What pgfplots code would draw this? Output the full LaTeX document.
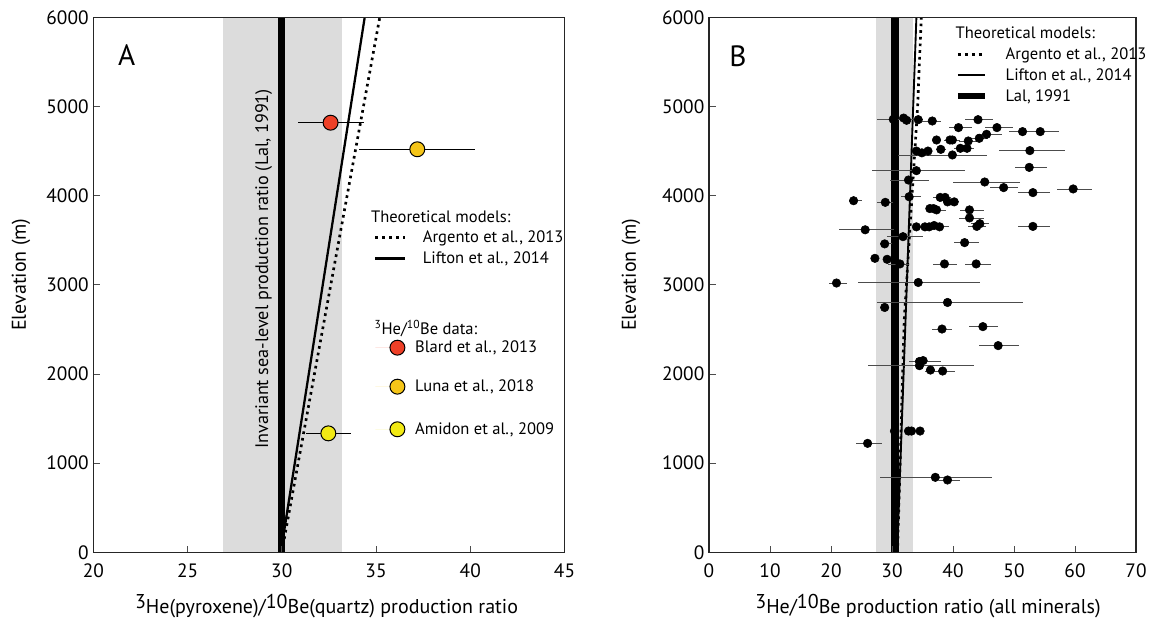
\documentclass[border=0pt]{standalone}
\usepackage{pgfplots}
\pgfplotsset{compat=1.18}
\usepackage{pgfplotstable}
\usepackage{fontspec}
\setmainfont{PT Sans}

\definecolor{band}{HTML}{DCDCDC}
\definecolor{blard}{HTML}{EE4027}
\definecolor{luna}{HTML}{F5C518}
\definecolor{amidon}{HTML}{F2EA14}

% legend strut, symmetric round the visual middle of the text
\newcommand{\ls}[1]{\rule[\dimexpr3.8pt-#1\relax]{0pt}{\dimexpr#1*2\relax}}

% panel B: 3He/10Be ratios, all minerals
\pgfplotstableread{
x y em ep
30.2 4856 2.7 4.8
31.9 4870 0 0
32.4 4845 0 0
34.3 4852 0.5 0.5
36.6 4837 1.7 1.5
44.1 4852 2.2 2.5
40.9 4763 1.6 2.2
47.2 4763 1.9 2.7
51.4 4718 2.3 2.2
54.3 4718 2.0 3.0
45.5 4688 1.6 2.5
37.3 4624 0.8 0.8
39.5 4624 1.0 1.0
39.9 4624 1.2 1.2
42.5 4613 1.5 1.5
44.3 4643 1.5 1.5
34.0 4500 0 0
34.9 4480 0 0
35.9 4500 0 0
38.0 4519 0.8 0.8
39.9 4456 8.9 5.6
41.2 4531 1.0 1.0
42.3 4531 1.2 1.2
52.6 4505 5.0 5.8
34.0 4280 7.3 7.9
52.5 4317 2.3 2.9
32.7 4175 3.0 3.4
45.2 4153 5.2 5.8
48.3 4090 2.2 2.4
53.1 4034 2.4 2.8
59.7 4075 2.7 3.1
32.8 3988 1.4 1.9
23.7 3943 0.8 1.3
28.9 3925 1.3 1.2
37.9 3980 1.2 1.0
38.7 3980 1.0 1.0
39.1 3930 0.8 0.8
40.2 3930 0.8 0.8
36.2 3855 0.5 0.5
36.8 3855 0.5 0.5
37.3 3840 0.8 1.5
42.7 3840 1.6 2.3
42.7 3750 1.7 2.3
44.4 3685 1.5 1.5
43.9 3655 1.5 1.5
53.1 3655 2.4 2.8
34.0 3650 0.5 0
35.4 3650 0 0
36.1 3650 0 0
36.9 3665 0 0
37.8 3650 0.5 1.5
25.6 3617 4.3 4.8
31.8 3540 2.7 3.2
41.9 3473 1.8 2.3
28.8 3459 0.7 1.2
27.2 3297 0 0
29.2 3286 0 0
31.3 3234 1.9 1.5
38.6 3234 1.8 2.1
43.8 3234 1.9 2.5
20.9 3020 1.3 1.8
34.3 3026 9.8 10.1
39.1 2802 11.5 12.3
28.8 2746 0 0
38.2 2504 1.6 1.7
44.9 2531 2.2 2.5
47.4 2318 3.1 3.4
34.5 2140 1.7 3.5
35.1 2150 0 0
34.5 2093 8.5 8.9
36.3 2044 0.8 0.8
38.3 2033 2.9 2.0
30.4 1360 0 0
32.7 1360 0 0
33.2 1360 0 0
34.6 1360 0 0
26.0 1222 1.9 2.3
37.1 841 9.0 9.3
39.1 811 1.4 2.0
}\alldata

\pgfplotsset{
  panel/.style={
    scale only axis, height=401.25pt, anchor=south west,
    ymin=0, ymax=6000, ytick={0,1000,...,6000},
    axis on top,
    axis line style={black!85, line width=0.9pt},
    tick align=inside, xtick pos=left, ytick pos=left,
    major tick length=5pt, tick style={black!70, line width=0.6pt},
    /pgf/number format/assume math mode=true,
    /pgf/number format/1000 sep={},
    tick label style={font=\fontsize{14.5}{16}\selectfont},
    xticklabel style={yshift=-5pt},
    label style={font=\fontsize{15}{17}\selectfont},
    ylabel={Elevation (m)},
    legend cell align=left,
  },
  keyfont/.style={font=\fontsize{12.4}{14}\selectfont},
  linekey/.style={legend image code/.code={\draw[##1] (0pt,0pt) -- (#1,0pt);}},
  dotkey/.style={legend image code/.code={\path[draw=none] (0pt,0pt) -- (22pt,0pt);
      \draw[##1] plot coordinates {(16.5pt,0pt)};}},
}

\begin{document}
\begin{tikzpicture}
% ---------------- A ----------------
\begin{axis}[panel, at={(0pt,0pt)}, width=353.4pt,
  xmin=20, xmax=45, xtick={20,25,...,45},
  xlabel={\raisebox{4pt}{3}He(pyroxene)/\raisebox{4pt}{10}Be(quartz) production ratio},
  xlabel style={at={(axis description cs:0.495,-0.1004)}, anchor=center},
  ylabel style={at={(axis description cs:-0.1534,0.519)}, anchor=center},
  legend style={at={(axis cs:34.89,3865)}, anchor=north west, draw=none, fill=none,
    inner sep=0pt, outer sep=0pt, row sep=0pt, column sep=6.75pt,
    nodes={inner sep=0pt, outer sep=0pt, text depth={}}, keyfont},
]
\addplot[forget plot, draw=none, fill=band] coordinates {(26.9,0) (33.2,0) (33.2,6000) (26.9,6000)};
\addplot[forget plot, black, line width=5pt] coordinates {(30,0) (30,6000)};
\addplot[forget plot, black, line width=1.7pt] coordinates {(30.06,150) (34.4,6000)};
\addplot[forget plot, black, line width=2pt, dash pattern=on 2pt off 3pt] coordinates {(30.13,150) (35.2,6000)};

\addplot[forget plot, only marks, mark=*, mark size=5.6pt,
  mark options={fill=blard, draw=black, line width=0.75pt},
  error bars/.cd, x dir=both, x explicit, error mark=none,
  error bar style={black, line width=1pt}]
  coordinates {(32.59,4818) += (1.77,0) -= (1.71,0)};
\addplot[forget plot, only marks, mark=*, mark size=5.6pt,
  mark options={fill=luna, draw=black, line width=0.75pt},
  error bars/.cd, x dir=both, x explicit, error mark=none,
  error bar style={black, line width=1pt}]
  coordinates {(37.19,4520) += (3.08,0) -= (3.11,0)};
\addplot[forget plot, only marks, mark=*, mark size=5.6pt,
  mark options={fill=amidon, draw=black, line width=0.75pt},
  error bars/.cd, x dir=both, x explicit, error mark=none,
  error bar style={black, line width=1pt}]
  coordinates {(32.47,1334) += (1.18,0) -= (1.19,0)};

\node[rotate=90, font=\fontsize{13.6}{15}\selectfont] at (axis cs:29.04,3177)
  {Invariant sea-level production ratio (Lal, 1991)};
\node[font=\fontsize{22}{24}\selectfont] at (axis cs:21.77,5577) {A};

\addlegendimage{empty legend}
\addlegendentry{\hspace*{-33pt}\ls{7.5pt}Theoretical models:}
\addlegendimage{black, line width=2pt, dash pattern=on 2pt off 3.2pt, linekey=22pt}
\addlegendentry{\hspace*{5.8pt}\ls{7.5pt}Argento et al., 2013}
\addlegendimage{black, line width=2.2pt, linekey=22pt}
\addlegendentry{\hspace*{5.8pt}\ls{7.95pt}Lifton et al., 2014}
\addlegendimage{empty legend}
\addlegendentry{\ls{19.2pt}}
\addlegendimage{empty legend}
\addlegendentry{\hspace*{-30.45pt}\ls{6.9pt}\textsuperscript{3}He/\textsuperscript{10}Be data:}
\addlegendimage{only marks, mark=*, mark size=5.6pt, draw=black, fill=blard, line width=0.75pt, dotkey}
\addlegendentry{\ls{6.9pt}Blard et al., 2013}
\addlegendimage{only marks, mark=*, mark size=5.6pt, draw=black, fill=luna, line width=0.75pt, dotkey}
\addlegendentry{\ls{22.35pt}Luna et al., 2018}
\addlegendimage{only marks, mark=*, mark size=5.6pt, draw=black, fill=amidon, line width=0.75pt, dotkey}
\addlegendentry{\ls{9.6pt}Amidon et al., 2009}
\end{axis}

% ---------------- B ----------------
\begin{axis}[panel, at={(461.775pt,0pt)}, width=320.25pt,
  xmin=0, xmax=70, xtick={0,10,...,70},
  xlabel={\raisebox{4pt}{3}He/\raisebox{4pt}{10}Be production ratio (all minerals)},
  xlabel style={at={(axis description cs:0.513,-0.1004)}, anchor=center},
  ylabel style={at={(axis description cs:-0.1827,0.519)}, anchor=center},
  legend style={at={(axis cs:40.33,5938)}, anchor=north west, draw=none, fill=none,
    inner sep=0pt, outer sep=0pt, row sep=0pt, column sep=13.5pt,
    nodes={inner sep=0pt, outer sep=0pt, text depth={}}, keyfont},
]
\addplot[forget plot, draw=none, fill=band] coordinates {(27.4,0) (33.5,0) (33.5,6000) (27.4,6000)};
\addplot[forget plot, black, line width=5.5pt] coordinates {(30.5,0) (30.5,6000)};
\addplot[forget plot, black, line width=1.4pt] coordinates {(30.85,0) (34.0,6000)};
\addplot[forget plot, black, line width=2pt, dash pattern=on 2pt off 3pt]
  coordinates {(30.9,0) (32.0,2600) (34.2,5000) (34.8,6000)};

\addplot[forget plot, only marks, mark=*, mark size=3.2pt, black,
  error bars/.cd, x dir=both, x explicit, error mark=none,
  error bar style={black!70, line width=0.6pt}]
  table[x=x, y=y, x error plus=ep, x error minus=em] {\alldata};

\node[font=\fontsize{22}{24}\selectfont] at (axis cs:4.75,5566) {B};

\addlegendimage{empty legend}
\addlegendentry{\hspace*{-37.5pt}\ls{7.875pt}Theoretical models:}
\addlegendimage{black, line width=2pt, dash pattern=on 2.2pt off 3pt, linekey=20.25pt}
\addlegendentry{\ls{7.875pt}Argento et al., 2013}
\addlegendimage{black, line width=1.4pt, linekey=20.25pt}
\addlegendentry{\ls{7.875pt}Lifton et al., 2014}
\addlegendimage{black, line width=4.3pt, linekey=20.25pt}
\addlegendentry{\ls{7.875pt}Lal, 1991}
\end{axis}

\pgfresetboundingbox
\path[use as bounding box] (-69.975pt,-50.025pt) rectangle (794.775pt,414.225pt);
\end{tikzpicture}
\end{document}
